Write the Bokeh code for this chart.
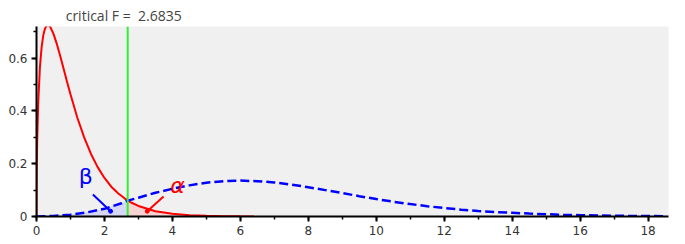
from bokeh.plotting import figure
from bokeh.models import Range1d, SingleIntervalTicker
from bokeh.core.properties import value
from bokeh.embed import file_html
from bokeh.resources import INLINE

crit_f = 2.6835

red_x = [0, 0.005, 0.01, 0.02, 0.05, 0.1, 0.15, 0.2, 0.25, 0.3, 0.35, 0.4, 0.5, 0.6, 0.7,
         0.8, 0.9, 1.0, 1.2, 1.4, 1.6, 1.8, 2.0, 2.2, 2.4, 2.6, 2.6835, 2.8, 3.0, 3.5,
         4.0, 4.5, 5.0, 5.5, 6.0, 6.4]
red_y = [0, 0.146, 0.204, 0.285, 0.430, 0.564, 0.641, 0.687, 0.712, 0.724, 0.726, 0.720,
         0.692, 0.653, 0.607, 0.559, 0.510, 0.463, 0.375, 0.301, 0.238, 0.187, 0.146,
         0.113, 0.088, 0.068, 0.061, 0.052, 0.040, 0.020, 0.010, 0.005, 0.0026, 0.0013,
         0.0006, 0.0003]

blue_x = [0, 0.5, 1, 1.5, 2, 2.5, 2.6835, 3, 3.5, 4, 4.5, 5, 5.5, 6, 6.5, 7, 7.5, 8, 8.5,
          9, 9.5, 10, 10.5, 11, 11.5, 12, 12.5, 13, 13.5, 14, 14.5, 15, 15.5, 16, 16.5,
          17, 17.5, 18, 18.5]
blue_y = [0, 0.002, 0.007, 0.016, 0.029, 0.050, 0.060, 0.071, 0.090, 0.105, 0.118, 0.128,
          0.134, 0.136, 0.134, 0.129, 0.121, 0.111, 0.100, 0.089, 0.077, 0.066, 0.056,
          0.047, 0.039, 0.032, 0.026, 0.021, 0.017, 0.014, 0.011, 0.0085, 0.0066, 0.005,
          0.0038, 0.0029, 0.0022, 0.0016, 0.0012]

x_max = 18.6
y_max = max(red_y) - 0.006
frame_w = 632
frame_h = 190
title_text = "critical F =\u00a0 %.4f" % crit_f
title_w = 124

p = figure(frame_width=frame_w, frame_height=frame_h, output_backend="svg",
           toolbar_location=None,
           x_range=Range1d(0, x_max), y_range=Range1d(0, y_max),
           min_border_top=26, min_border_left=36, min_border_right=15,
           min_border_bottom=26)
p.background_fill_color = "#f0f0f0"
p.border_fill_color = "white"
p.outline_line_color = None
p.grid.visible = False

p.title.text = title_text
p.title.align = "left"
p.title.offset = crit_f / x_max * frame_w - title_w / 2
p.title.text_font = "Open Sans"
p.title.text_font_size = "14px"
p.title.text_font_style = "normal"
p.title.text_color = "#444444"
p.title.standoff = 4

p.xaxis.ticker = SingleIntervalTicker(interval=2, num_minor_ticks=2)
p.yaxis.ticker = SingleIntervalTicker(interval=0.2, num_minor_ticks=2)
p.yaxis.major_label_overrides = {0: "0"}
for ax in (p.xaxis, p.yaxis):
    ax.axis_line_color = "black"
    ax.axis_line_width = 2
    ax.major_tick_in = 0
    ax.major_tick_out = 5
    ax.minor_tick_in = 0
    ax.minor_tick_out = 3
    ax.major_tick_line_width = 2
    ax.minor_tick_line_width = 1.5
    ax.major_tick_line_color = "black"
    ax.minor_tick_line_color = "black"
    ax.major_label_text_font = "DejaVu Sans"
    ax.major_label_text_font_size = "12px"
    ax.major_label_text_color = "#333333"
    ax.major_label_standoff = 4

# shaded areas
bx = [x for x in blue_x if x <= crit_f]
by = [y for x, y in zip(blue_x, blue_y) if x <= crit_f]
rx = [x for x in red_x if x >= crit_f]
ry = [y for x, y in zip(red_x, red_y) if x >= crit_f]
p.varea(x=bx, y1=0, y2=by, fill_color="#d0d0f6", fill_alpha=0.8)
p.varea(x=rx, y1=0, y2=ry, fill_color="#f8cccc", fill_alpha=0.8)

p.line(red_x, red_y, line_color="red", line_width=2)
p.line(blue_x, blue_y, line_color="blue", line_width=2.5, line_dash="9 4")

p.segment(x0=[crit_f], y0=[0], x1=[crit_f], y1=[y_max], line_color="#33ee33", line_width=2)

# annotations
p.segment(x0=[1.66], y0=[0.083], x1=[2.18], y1=[0.02], line_color="blue", line_width=2)
p.scatter(x=[2.18], y=[0.02], size=4, color="blue")
p.text(x=[1.45], y=[0.15], text=["β"], text_color="blue", text_align="center",
       text_baseline="middle", text_font=value("DejaVu Sans"), text_font_size="22px")
p.segment(x0=[3.74], y0=[0.076], x1=[3.26], y1=[0.02], line_color="red", line_width=2)
p.scatter(x=[3.26], y=[0.02], size=4, color="red")
p.text(x=[4.15], y=[0.118], text=["α"], text_color="red", text_align="center",
       text_baseline="middle", text_font=value("DejaVu Sans"), text_font_style="italic",
       text_font_size="22px")

open("out.html", "w").write(file_html(p, INLINE))
